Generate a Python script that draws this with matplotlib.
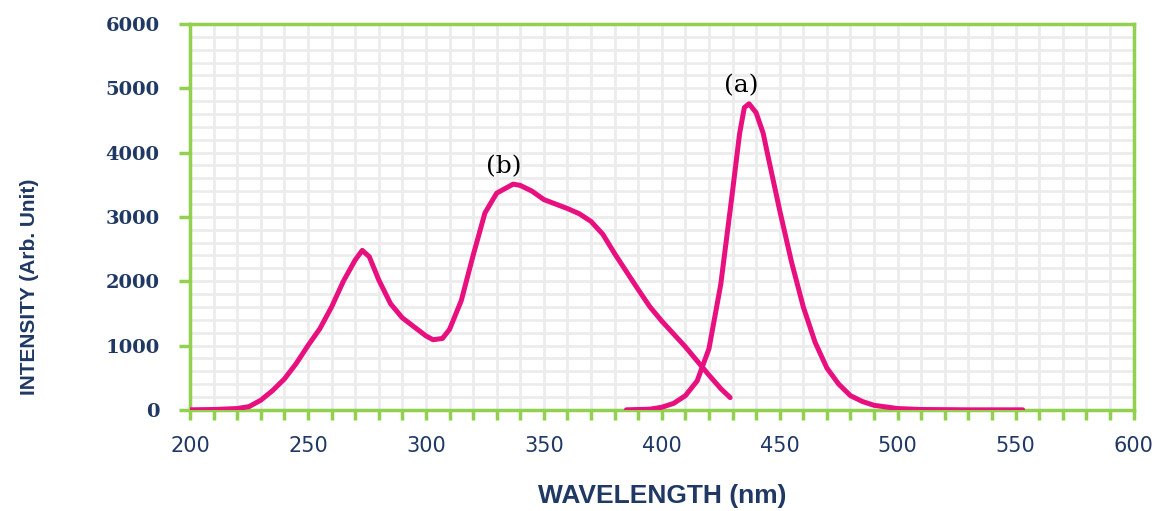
import matplotlib.pyplot as plt
from matplotlib.ticker import MultipleLocator

# Curve (b): excitation spectrum
wl_b = [200, 210, 220, 225, 230, 235, 240, 245, 250, 255, 260, 265, 270, 273,
        276, 280, 285, 290, 295, 300, 303, 307, 310, 315, 320, 325, 330, 333,
        337, 340, 345, 350, 355, 360, 365, 370, 375, 380, 385, 390, 395, 400,
        405, 410, 415, 420, 425, 429]
int_b = [0, 5, 20, 50, 150, 300, 480, 720, 1000, 1260, 1600, 2000, 2330, 2480,
         2380, 2020, 1650, 1430, 1290, 1150, 1090, 1110, 1250, 1700, 2400, 3060,
         3370, 3430, 3510, 3490, 3400, 3270, 3200, 3130, 3050, 2930, 2730, 2430,
         2150, 1870, 1600, 1380, 1180, 980, 760, 540, 330, 190]

# Curve (a): emission spectrum
wl_a = [385, 390, 395, 400, 405, 410, 415, 420, 425, 430, 433, 435, 437, 440,
        443, 445, 450, 455, 460, 465, 470, 475, 480, 485, 490, 500, 510, 530, 553]
int_a = [0, 5, 10, 40, 100, 220, 450, 950, 1950, 3400, 4300, 4700, 4760, 4620,
         4300, 3950, 3100, 2300, 1600, 1050, 650, 400, 220, 130, 70, 20, 5, 0, 0]

navy = "#1f3864"
pink = "#e8107f"
green = "#92d050"

fig = plt.figure(figsize=(11.59, 5.11), dpi=100)
ax = fig.add_axes([0.164, 0.198, 0.814, 0.755])

ax.plot(wl_b, int_b, color=pink, linewidth=3.6, solid_capstyle="round", zorder=3)
ax.plot(wl_a, int_a, color=pink, linewidth=3.6, solid_capstyle="round", zorder=3)

# Curve labels
ax.text(433.5, 5040, "(a)", ha="center", va="center", fontsize=18,
        family="DejaVu Serif", color="black")
ax.text(333, 3780, "(b)", ha="center", va="center", fontsize=18,
        family="DejaVu Serif", color="black")

ax.set_xlim(200, 600)
ax.set_ylim(0, 6000)
ax.xaxis.set_major_locator(MultipleLocator(50))
ax.xaxis.set_minor_locator(MultipleLocator(10))
ax.yaxis.set_major_locator(MultipleLocator(1000))
ax.yaxis.set_minor_locator(MultipleLocator(200))

# Grid
ax.grid(which="both", color="#ececec", linewidth=2)
ax.set_axisbelow(True)

# Spines
for side in ["top", "bottom", "left", "right"]:
    ax.spines[side].set_color(green)
    ax.spines[side].set_linewidth(2.5)

ax.tick_params(axis="x", which="both", direction="out", color=green, width=2.5,
               length=7, labelsize=15, labelcolor=navy, pad=12)
ax.tick_params(axis="y", which="major", direction="out", color=green, width=2.5,
               length=8, labelsize=14, labelcolor=navy, pad=14)
ax.tick_params(axis="y", which="minor", length=0)

for lbl in ax.get_yticklabels():
    lbl.set_fontweight("bold")
    lbl.set_family("DejaVu Serif")

ax.set_xlabel("WAVELENGTH (nm)", fontsize=19, fontweight="bold", color=navy,
              family="Liberation Sans")
ax.xaxis.set_label_coords(0.5, -0.193)
ax.set_ylabel("INTENSITY (Arb. Unit)", fontsize=15, fontweight="bold", color=navy,
              family="Liberation Sans")
ax.yaxis.set_label_coords(-0.16, 0.32)

plt.savefig("out.png", dpi=100)
